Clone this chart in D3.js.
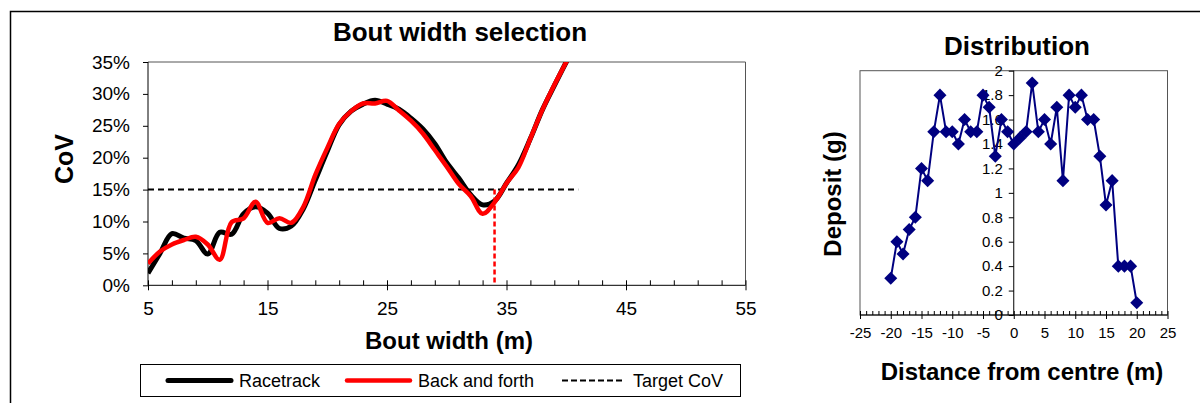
<!DOCTYPE html>
<html>
<head>
<meta charset="utf-8">
<script src="https://cdn.jsdelivr.net/npm/d3@7"></script>
<style>
  body { margin: 0; background: #fff; }
  svg { display: block; font-family: Arial, "Liberation Sans", sans-serif; }
  .axis path, .axis line { stroke: #000; }
</style>
</head>
<body>
<div id="chart"></div>
<script>
// bout width selection (CoV in %)
const boutWidth = [5, 6, 7, 8, 9, 10, 11, 12, 13, 14, 15, 16, 17, 18, 19, 20, 21, 22, 23,
  24, 25, 26, 27, 28, 29, 30, 31, 32, 33, 34, 35, 36, 37, 38, 39, 40, 41];
const racetrack = [1.9, 5.0, 8.1, 7.4, 7.0, 4.9, 8.3, 8.0, 11.2, 12.3, 11.3, 8.9, 9.3, 12.0,
  16.5, 21.0, 25.2, 27.3, 28.4, 29.0, 28.4, 27.6, 26.2, 24.5, 22.2, 19.2, 16.8, 14.2, 12.6,
  13.2, 16.0, 18.9, 23.0, 27.5, 31.3, 35.0, 38.7];
const backAndForth = [3.4, 5.3, 6.4, 7.1, 7.6, 6.4, 4.0, 9.9, 10.5, 13.1, 9.8, 10.5, 9.8, 12.3,
  17.3, 21.5, 25.3, 27.3, 28.5, 28.5, 28.9, 27.4, 25.8, 23.8, 21.2, 18.6, 15.9, 14.0, 11.2,
  13.0, 16.0, 18.5, 23.0, 27.5, 31.4, 35.0, 38.7];
const targetCov = 15;
const targetRange = [5, 41];
const selectedWidth = 34;
const covTicks = [0, 5, 10, 15, 20, 25, 30, 35];
const widthTicks = [5, 15, 25, 35, 45, 55];
const widthMinor = [7, 9, 11, 13, 17, 19, 21, 23, 27, 29, 31, 33, 37, 39, 41, 43, 47, 49, 51, 53];

// deposit distribution
const distance = [-20, -19, -18, -17, -16, -15, -14, -13, -12, -11, -10, -9, -8, -7, -6, -5,
  -4, -3, -2, -1, 0, 1, 2, 3, 4, 5, 6, 7, 8, 9, 10, 11, 12, 13, 14, 15, 16, 17, 18, 19, 20];
const deposit = [0.3, 0.6, 0.5, 0.7, 0.8, 1.2, 1.1, 1.5, 1.8, 1.5, 1.5, 1.4, 1.6, 1.5, 1.5, 1.8,
  1.7, 1.3, 1.6, 1.5, 1.4, 1.45, 1.5, 1.9, 1.5, 1.6, 1.4, 1.7, 1.1, 1.8, 1.7, 1.8, 1.6, 1.6,
  1.3, 0.9, 1.1, 0.4, 0.4, 0.4, 0.1];
const depositTicks = [0, 0.2, 0.4, 0.6, 0.8, 1, 1.2, 1.4, 1.6, 1.8, 2];
const distanceTicks = [-25, -20, -15, -10, -5, 0, 5, 10, 15, 20, 25];
const distanceMinor = [-24, -23, -22, -21, -19, -18, -17, -16, -14, -13, -12, -11, -9, -8, -7, -6,
  -4, -3, -2, -1, 1, 2, 3, 4, 6, 7, 8, 9, 11, 12, 13, 14, 16, 17, 18, 19, 21, 22, 23, 24];

const width = 1200, height = 403;

const svg = d3.select("#chart")
  .append("svg")
  .attr("width", width)
  .attr("height", height);

// outer frame (runs off the picture on the right and bottom)
svg.append("rect")
  .attr("x", 10.5).attr("y", 11.5)
  .attr("width", 1200).attr("height", 400)
  .attr("fill", "none")
  .attr("stroke", "#000")
  .attr("stroke-width", 1.5);

// ---------- left chart ----------
const x = d3.scaleLinear().domain([5, 55]).range([148, 745.5]);
const y = d3.scaleLinear().domain([0, 35]).range([285.3, 62]);

svg.append("clipPath")
  .attr("id", "clip")
  .append("rect")
  .attr("x", x(5)).attr("y", y(35))
  .attr("width", x(55) - x(5)).attr("height", y(0) - y(35));

// plot area frame
svg.append("path")
  .attr("d", `M${x(5)},${y(35)}H${x(55)}V${y(0)}`)
  .attr("fill", "none")
  .attr("stroke", "#555");

const yAxis = d3.axisLeft(y)
  .tickValues(covTicks)
  .tickFormat(d => d + "%")
  .tickSize(5)
  .tickPadding(13);

svg.append("g")
  .attr("class", "axis")
  .attr("transform", `translate(${x(5)},0)`)
  .call(yAxis)
  .call(g => g.select(".domain").attr("d", `M0,${y(35)}V${y(0)}`))
  .selectAll("text")
  .attr("font-size", 19)
  .attr("fill", "#000");

svg.append("g")
  .attr("class", "axis")
  .attr("transform", `translate(0,${y(0)})`)
  .call(d3.axisBottom(x).tickValues(widthMinor).tickSize(-5).tickFormat(""))
  .call(g => g.select(".domain").remove());

svg.append("g")
  .attr("class", "axis")
  .attr("transform", `translate(0,${y(0)})`)
  .call(d3.axisBottom(x).tickValues(widthTicks).tickSize(5).tickPadding(11))
  .call(g => g.select(".domain").attr("d", `M${x(5)},0H${x(55)}`))
  .call(g => g.selectAll(".tick line").attr("y1", -5))
  .selectAll("text")
  .attr("font-size", 19)
  .attr("fill", "#000");

// target CoV
svg.append("line")
  .attr("x1", x(targetRange[0])).attr("x2", x(targetRange[1]))
  .attr("y1", y(targetCov)).attr("y2", y(targetCov))
  .attr("stroke", "#000")
  .attr("stroke-width", 2)
  .attr("stroke-dasharray", "6,4");

const line = d3.line()
  .x((d, i) => x(boutWidth[i]))
  .y(d => y(d))
  .curve(d3.curveCatmullRom);

svg.append("path")
  .datum(racetrack)
  .attr("d", line)
  .attr("clip-path", "url(#clip)")
  .attr("fill", "none")
  .attr("stroke", "#000")
  .attr("stroke-width", 5);

svg.append("path")
  .datum(backAndForth)
  .attr("d", line)
  .attr("clip-path", "url(#clip)")
  .attr("fill", "none")
  .attr("stroke", "#ff0000")
  .attr("stroke-width", 4.5);

// chosen width
svg.append("line")
  .attr("x1", x(selectedWidth)).attr("x2", x(selectedWidth))
  .attr("y1", y(targetCov)).attr("y2", y(0))
  .attr("stroke", "#ff0000")
  .attr("stroke-width", 2.5)
  .attr("stroke-dasharray", "5,3");

svg.append("text")
  .attr("x", 460).attr("y", 41)
  .attr("text-anchor", "middle")
  .attr("font-size", 26)
  .attr("font-weight", "bold")
  .text("Bout width selection");

svg.append("text")
  .attr("transform", "translate(73,159) rotate(-90)")
  .attr("text-anchor", "middle")
  .attr("font-size", 25)
  .attr("font-weight", "bold")
  .text("CoV");

svg.append("text")
  .attr("x", 449).attr("y", 349)
  .attr("text-anchor", "middle")
  .attr("font-size", 24)
  .attr("font-weight", "bold")
  .text("Bout width (m)");

// legend
const legend = svg.append("g");
legend.append("rect")
  .attr("x", 140.5).attr("y", 364.5)
  .attr("width", 600).attr("height", 32)
  .attr("fill", "#fff")
  .attr("stroke", "#000");

const legendItems = [
  {label: "Racetrack", color: "#000", w: 5, dash: null, x0: 168},
  {label: "Back and forth", color: "#ff0000", w: 4.5, dash: null, x0: 347},
  {label: "Target CoV", color: "#000", w: 2, dash: "6,3", x0: 562}
];
legendItems.forEach(d => {
  legend.append("line")
    .attr("x1", d.x0).attr("x2", d.x0 + 63)
    .attr("y1", 380.5).attr("y2", 380.5)
    .attr("stroke", d.color)
    .attr("stroke-width", d.w)
    .attr("stroke-linecap", d.dash ? "butt" : "round")
    .attr("stroke-dasharray", d.dash);
  legend.append("text")
    .attr("x", d.x0 + 71).attr("y", 387)
    .attr("font-size", 18)
    .text(d.label);
});

// ---------- right chart ----------
const xd = d3.scaleLinear().domain([-25, 25]).range([860, 1167.5]);
const yd = d3.scaleLinear().domain([0, 2]).range([315, 70.7]);

svg.append("rect")
  .attr("x", xd(-25)).attr("y", yd(2))
  .attr("width", xd(25) - xd(-25)).attr("height", yd(0) - yd(2))
  .attr("fill", "none")
  .attr("stroke", "#555");

svg.append("g")
  .attr("class", "axis")
  .attr("transform", `translate(0,${yd(0)})`)
  .call(d3.axisBottom(xd).tickValues(distanceMinor).tickSize(-4).tickFormat(""))
  .call(g => g.select(".domain").remove());

svg.append("g")
  .attr("class", "axis")
  .attr("transform", `translate(0,${yd(0)})`)
  .call(d3.axisBottom(xd).tickValues(distanceTicks).tickFormat(d => String(d)).tickSize(4).tickPadding(8))
  .call(g => g.select(".domain").attr("d", `M${xd(-25)},0H${xd(25)}`))
  .call(g => g.selectAll(".tick line").attr("y1", -4))
  .selectAll("text")
  .attr("font-size", 15)
  .attr("fill", "#000");

svg.append("g")
  .attr("class", "axis")
  .attr("transform", `translate(${xd(0)},0)`)
  .call(d3.axisLeft(yd).tickValues(depositTicks).tickFormat(d => String(d)).tickSize(5).tickPadding(6))
  .call(g => g.select(".domain").attr("d", `M0,${yd(2)}V${yd(0)}`))
  .selectAll("text")
  .attr("font-size", 15)
  .attr("fill", "#000");

const navy = "#000080";

svg.append("path")
  .datum(deposit)
  .attr("d", d3.line().x((d, i) => xd(distance[i])).y(d => yd(d)))
  .attr("fill", "none")
  .attr("stroke", navy)
  .attr("stroke-width", 2);

svg.selectAll(".marker")
  .data(deposit)
  .join("path")
  .attr("class", "marker")
  .attr("d", d3.symbol(d3.symbolSquare, 85))
  .attr("transform", (d, i) => `translate(${xd(distance[i])},${yd(d)}) rotate(45)`)
  .attr("fill", navy);

svg.append("text")
  .attr("x", 1017).attr("y", 55)
  .attr("text-anchor", "middle")
  .attr("font-size", 26)
  .attr("font-weight", "bold")
  .text("Distribution");

svg.append("text")
  .attr("transform", "translate(841,194) rotate(-90)")
  .attr("text-anchor", "middle")
  .attr("font-size", 24)
  .attr("font-weight", "bold")
  .text("Deposit (g)");

svg.append("text")
  .attr("x", 1022).attr("y", 380)
  .attr("text-anchor", "middle")
  .attr("font-size", 24)
  .attr("font-weight", "bold")
  .text("Distance from centre (m)");
</script>
</body>
</html>
